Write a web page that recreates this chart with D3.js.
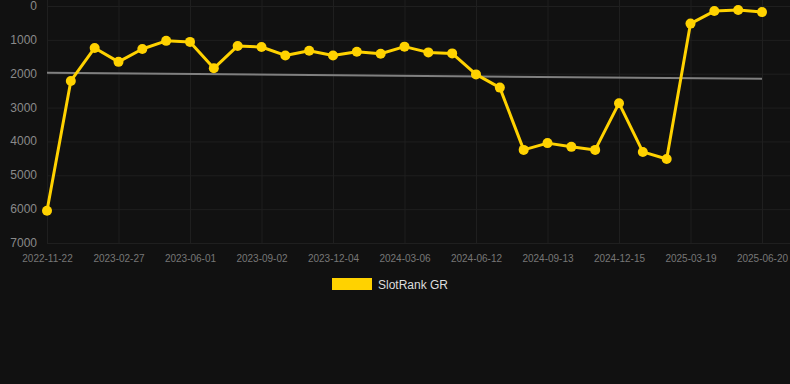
<!DOCTYPE html>
<html>
<head>
<meta charset="utf-8">
<script src="https://cdn.jsdelivr.net/npm/d3@7"></script>
<style>
  body { margin: 0; background: #111111; }
  svg { display: block; font-family: "Liberation Sans", Arial, sans-serif; }
</style>
</head>
<body>
<svg id="chart" width="790" height="384"></svg>
<script>
// monthly snapshot dates (every 3rd one is labelled on the axis)
var dates = ["2022-11-22","2022-12-24","2023-01-25","2023-02-27","2023-03-31","2023-05-01","2023-06-01",
  "2023-07-03","2023-08-02","2023-09-02","2023-10-03","2023-11-03","2023-12-04","2024-01-04","2024-02-04",
  "2024-03-06","2024-04-07","2024-05-10","2024-06-12","2024-07-14","2024-08-12","2024-09-13","2024-10-15",
  "2024-11-13","2024-12-15","2025-01-16","2025-02-16","2025-03-19","2025-04-20","2025-05-20","2025-06-20"];
var rank = [6050, 2215, 1240, 1650, 1270, 1030, 1060, 1840, 1180, 1210, 1460, 1320, 1460, 1350, 1410,
  1200, 1370, 1400, 2020, 2410, 4250, 4050, 4160, 4250, 2870, 4310, 4520, 520, 150, 120, 180];
var trend = [1970, 2150]; // start / end of the trend line
var yTicks = [0, 1000, 2000, 3000, 4000, 5000, 6000, 7000];
var seriesName = "SlotRank GR";

var svg = d3.select("#chart");
var plotLeft = 47, plotRight = 762, plotTop = 6, plotBottom = 243;
var yellow = "#ffd200";

var x = d3.scalePoint().domain(dates).range([plotLeft, plotRight]);
var y = d3.scaleLinear().domain([0, 7000]).range([plotTop, plotBottom]);

var labelled = dates.filter(function(d, i) { return i % 3 === 0; });

// grid
svg.append("g").selectAll("line").data(yTicks).enter().append("line")
  .attr("x1", plotLeft).attr("x2", 790)
  .attr("y1", function(d) { return y(d) + 0.5; }).attr("y2", function(d) { return y(d) + 0.5; })
  .attr("stroke", "#1f1f1f").attr("stroke-width", 1);
svg.append("g").selectAll("line").data(labelled).enter().append("line")
  .attr("x1", function(d) { return x(d) + 0.5; }).attr("x2", function(d) { return x(d) + 0.5; })
  .attr("y1", 0).attr("y2", plotBottom)
  .attr("stroke", "#1f1f1f").attr("stroke-width", 1);

// y axis labels
svg.append("g").selectAll("text").data(yTicks).enter().append("text")
  .attr("x", 37).attr("y", function(d) { return y(d) + 4; })
  .attr("text-anchor", "end").attr("font-size", 12).attr("fill", "#8a8a8a")
  .text(function(d) { return d; });

// x axis labels
var xAxis = d3.axisBottom(x).tickValues(labelled).tickSize(0).tickPadding(12);
var gx = svg.append("g").attr("transform", "translate(0," + plotBottom + ")").call(xAxis);
gx.select(".domain").remove();
gx.selectAll("text").attr("font-size", 10).attr("fill", "#777").attr("font-family", "Liberation Sans, Arial, sans-serif");

// trend line
svg.append("line")
  .attr("x1", x(dates[0])).attr("x2", x(dates[dates.length - 1]))
  .attr("y1", y(trend[0])).attr("y2", y(trend[1]))
  .attr("stroke", "#808080").attr("stroke-width", 2);

// series
var line = d3.line().x(function(d, i) { return x(dates[i]); }).y(function(d) { return y(d); });
svg.append("path").datum(rank).attr("d", line)
  .attr("fill", "none").attr("stroke", yellow).attr("stroke-width", 3).attr("stroke-linejoin", "round");
svg.append("g").selectAll("circle").data(rank).enter().append("circle")
  .attr("cx", function(d, i) { return x(dates[i]); }).attr("cy", function(d) { return y(d); })
  .attr("r", 5).attr("fill", yellow);

// legend
svg.append("rect").attr("x", 332).attr("y", 278).attr("width", 40).attr("height", 12).attr("fill", yellow);
svg.append("text").attr("x", 378).attr("y", 289).attr("font-size", 12).attr("fill", "#dddddd").text(seriesName);
</script>
</body>
</html>
